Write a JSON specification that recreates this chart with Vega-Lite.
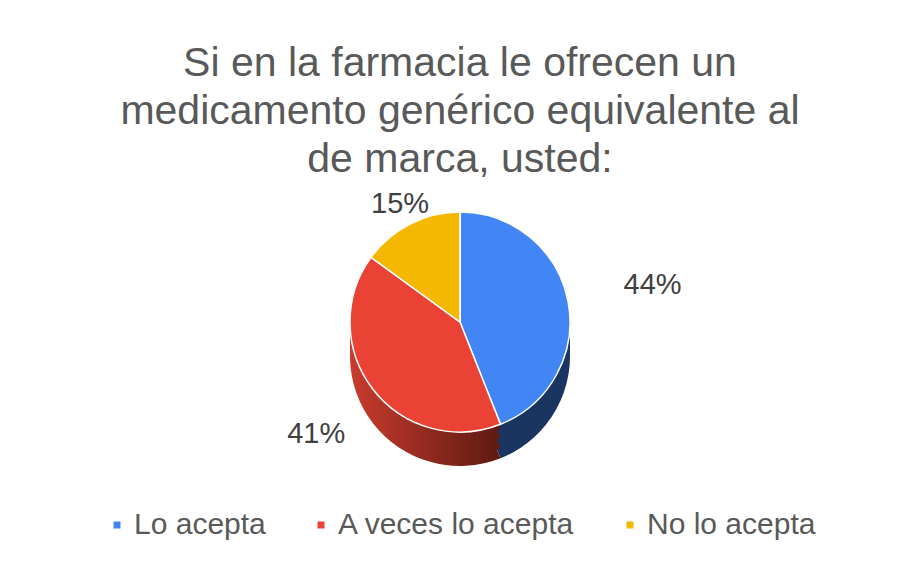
{
  "$schema": "https://vega.github.io/schema/vega-lite/v6.json",
  "width": 884,
  "height": 254,
  "autosize": {"type": "pad"},
  "padding": {"left": 18, "right": 0, "top": 43, "bottom": 10},
  "background": "white",
  "title": {
    "text": ["Si en la farmacia le ofrecen un", "medicamento genérico equivalente al", "de marca, usted:"],
    "font": "Liberation Sans",
    "fontSize": 41,
    "fontWeight": "normal",
    "lineHeight": 48,
    "color": "#595959",
    "anchor": "middle",
    "offset": 9
  },
  "data": {
    "values": [
      {"cat": "Lo acepta", "value": 0.44, "order": 1},
      {"cat": "A veces lo acepta", "value": 0.41, "order": 2},
      {"cat": "No lo acepta", "value": 0.15, "order": 3}
    ]
  },
  "transform": [
    {"stack": "value", "groupby": [], "sort": [{"field": "order", "order": "ascending"}], "as": ["v0", "v1"]},
    {"calculate": "(datum.v0 + datum.v1) / 2", "as": "mid"}
  ],
  "layer": [
    {
      "mark": {"type": "arc", "outerRadius": 110, "yOffset": 34},
      "encoding": {
        "theta": {"field": "v0", "type": "quantitative", "scale": {"domain": [0, 1]}},
        "theta2": {"field": "v1"},
        "fill": {"condition": [{"test": "datum.order == 1", "value": "#1B3563"}, {"test": "datum.order == 2", "value": {"gradient": "linear", "x1": 0, "x2": 1, "y1": 0, "y2": 0, "stops": [{"offset": 0, "color": "#C93B2D"}, {"offset": 1, "color": "#5E1A12"}]}}], "value": "#A57B02"}
      }
    },
    {
      "mark": {"type": "arc", "outerRadius": 110, "yOffset": 24},
      "encoding": {
        "theta": {"field": "v0", "type": "quantitative", "scale": {"domain": [0, 1]}},
        "theta2": {"field": "v1"},
        "fill": {"condition": [{"test": "datum.order == 1", "value": "#1B3563"}, {"test": "datum.order == 2", "value": {"gradient": "linear", "x1": 0, "x2": 1, "y1": 0, "y2": 0, "stops": [{"offset": 0, "color": "#C93B2D"}, {"offset": 1, "color": "#5E1A12"}]}}], "value": "#A57B02"}
      }
    },
    {
      "mark": {"type": "arc", "outerRadius": 110, "yOffset": 14},
      "encoding": {
        "theta": {"field": "v0", "type": "quantitative", "scale": {"domain": [0, 1]}},
        "theta2": {"field": "v1"},
        "fill": {"condition": [{"test": "datum.order == 1", "value": "#1B3563"}, {"test": "datum.order == 2", "value": {"gradient": "linear", "x1": 0, "x2": 1, "y1": 0, "y2": 0, "stops": [{"offset": 0, "color": "#C93B2D"}, {"offset": 1, "color": "#5E1A12"}]}}], "value": "#A57B02"}
      }
    },
    {
      "mark": {"type": "arc", "outerRadius": 110, "yOffset": 5},
      "encoding": {
        "theta": {"field": "v0", "type": "quantitative", "scale": {"domain": [0, 1]}},
        "theta2": {"field": "v1"},
        "fill": {"condition": [{"test": "datum.order == 1", "value": "#1B3563"}, {"test": "datum.order == 2", "value": {"gradient": "linear", "x1": 0, "x2": 1, "y1": 0, "y2": 0, "stops": [{"offset": 0, "color": "#C93B2D"}, {"offset": 1, "color": "#5E1A12"}]}}], "value": "#A57B02"}
      }
    },
    {
      "mark": {"type": "arc", "outerRadius": 110, "stroke": "white", "strokeWidth": 1.5},
      "encoding": {
        "theta": {"field": "v0", "type": "quantitative", "scale": {"domain": [0, 1]}},
        "theta2": {"field": "v1"},
        "color": {
          "field": "cat",
          "type": "nominal",
          "scale": {"domain": ["Lo acepta", "A veces lo acepta", "No lo acepta"], "range": ["#4285F4", "#EA4335", "#F5B800"]},
          "legend": {
            "title": null,
            "orient": "none",
            "legendX": 84,
            "legendY": 315,
            "direction": "horizontal",
            "symbolType": "square",
            "symbolSize": 49,
            "symbolStrokeWidth": 0,
            "labelFont": "Liberation Sans",
            "labelFontSize": 30,
            "labelColor": "#595959",
            "labelOffset": 2,
            "columnPadding": 40,
            "labelLimit": 400
          }
        }
      }
    },
    {
      "transform": [{"filter": "datum.order == 1"}],
      "mark": {"type": "text", "radius": 196, "font": "Liberation Sans", "fontSize": 29, "color": "#404040"},
      "encoding": {
        "theta": {"field": "mid", "type": "quantitative", "scale": {"domain": [0, 1]}},
        "text": {"field": "value", "type": "quantitative", "format": ".0%"}
      }
    },
    {
      "transform": [{"filter": "datum.order == 2"}],
      "mark": {"type": "text", "radius": 182, "font": "Liberation Sans", "fontSize": 29, "color": "#404040"},
      "encoding": {
        "theta": {"field": "mid", "type": "quantitative", "scale": {"domain": [0, 1]}},
        "text": {"field": "value", "type": "quantitative", "format": ".0%"}
      }
    },
    {
      "transform": [{"filter": "datum.order == 3"}],
      "mark": {"type": "text", "radius": 132, "font": "Liberation Sans", "fontSize": 29, "color": "#404040"},
      "encoding": {
        "theta": {"field": "mid", "type": "quantitative", "scale": {"domain": [0, 1]}},
        "text": {"field": "value", "type": "quantitative", "format": ".0%"}
      }
    }
  ],
  "config": {"view": {"stroke": null}}
}
